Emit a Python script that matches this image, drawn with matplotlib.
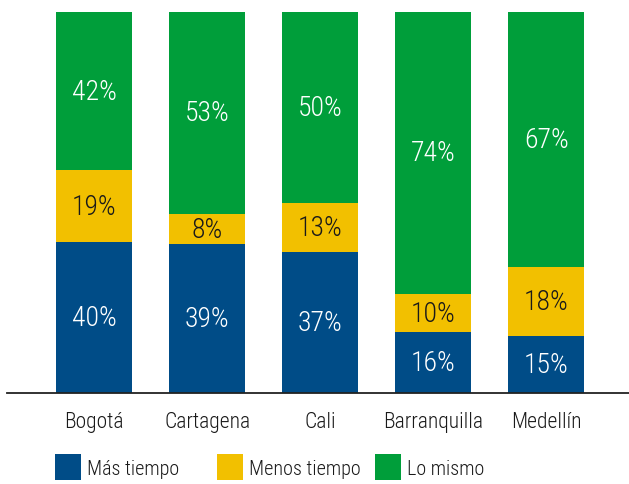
import numpy as np
import matplotlib
matplotlib.use("Agg")
import matplotlib.pyplot as plt
from matplotlib.patches import Patch

plt.rcParams['font.family'] = ['DejaVu Sans Condensed', 'Roboto Condensed', 'Roboto', 'DejaVu Sans']

cities = ["Bogotá", "Cartagena", "Cali", "Barranquilla", "Medellín"]
mas_tiempo = [40, 39, 37, 16, 15]
menos_tiempo = [19, 8, 13, 10, 18]
lo_mismo = [42, 53, 50, 74, 67]
series_names = ["Más tiempo", "Menos tiempo", "Lo mismo"]
colors = ["#004c87", "#f2c000", "#009e3a"]
text_colors = ["white", "#1a1a1a", "white"]

data = np.array([mas_tiempo, menos_tiempo, lo_mismo], dtype=float)
shares = data / data.sum(axis=0)  # barras al 100%

fig = plt.figure(figsize=(6.29, 4.85), dpi=100)
ax = fig.add_axes([0.0111, 0.1876, 0.9889, 0.7856])

x = np.arange(len(cities))
bottom = np.zeros(len(cities))
for i in range(3):
    ax.bar(x, shares[i], 0.673, bottom=bottom, color=colors[i])
    for j in range(len(cities)):
        ax.text(x[j], bottom[j] + shares[i][j] / 2, f"{int(data[i][j])}%",
                ha="center", va="center", fontsize=20, color=text_colors[i],
                fontweight="light")
    bottom += shares[i]

ax.set_xlim(-0.77, 4.73)
ax.set_ylim(0, 1)
ax.set_yticks([])
ax.set_xticks(x)
ax.set_xticklabels(cities, fontsize=15.5, color="#1a1a1a", fontweight="light")
ax.tick_params(axis="x", length=0, pad=13)
for s in ["top", "right", "left"]:
    ax.spines[s].set_visible(False)
ax.spines["bottom"].set_linewidth(1.3)
ax.spines["bottom"].set_color("#222222")

# leyenda: una entrada por posicion, como en el original
leg_x = [55 / 629, 217 / 629, 375 / 629]
for k in range(3):
    leg = fig.legend([Patch(facecolor=colors[k])], [series_names[k]],
                     loc="center left", bbox_to_anchor=(leg_x[k], 0.035),
                     frameon=False, fontsize=14.5, handlelength=1.29, handleheight=1.54,
                     handletextpad=0.3, borderpad=0, borderaxespad=0)
    for t in leg.get_texts():
        t.set_fontweight("light")
        t.set_color("#1a1a1a")

fig.savefig("out.png", dpi=100)
